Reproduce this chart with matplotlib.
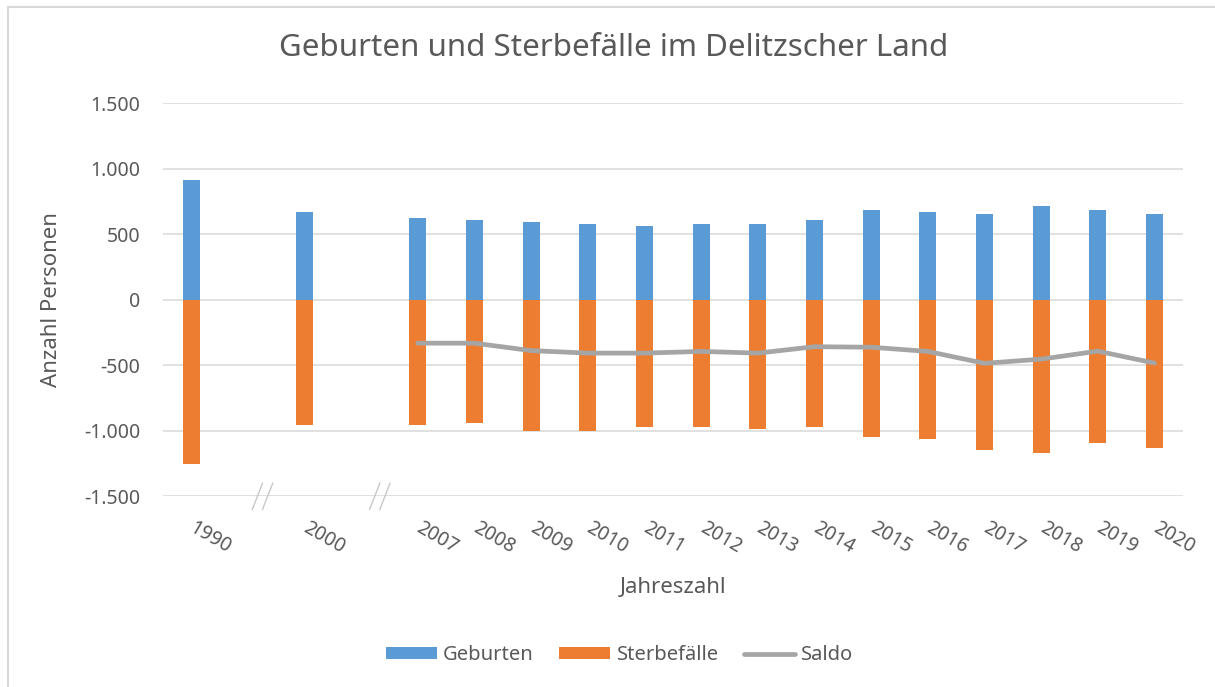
import matplotlib
matplotlib.use("Agg")
import matplotlib.pyplot as plt
from matplotlib.lines import Line2D
from matplotlib.ticker import FuncFormatter

plt.rcParams['font.family'] = ['Noto Sans', 'DejaVu Sans']

# data
jahre = ['1990', '', '2000', '', '2007', '2008', '2009', '2010', '2011', '2012',
         '2013', '2014', '2015', '2016', '2017', '2018', '2019', '2020']
geburten = [915, None, 670, None, 625, 608, 593, 578, 563, 578,
            578, 608, 685, 669, 654, 715, 685, 654]
sterbefaelle = [-1255, None, -955, None, -957, -942, -1000, -1000, -972, -972,
                -987, -972, -1046, -1061, -1150, -1168, -1092, -1135]
saldo = [None, None, None, None, -331, -331, -388, -407, -407, -394,
         -407, -358, -362, -394, -485, -453, -392, -483]

c_geb = '#5b9bd5'
c_ster = '#ed7d31'
c_saldo = '#a5a5a5'
c_text = '#595959'
c_grid = '#d9d9d9'

fig = plt.figure(figsize=(12.15, 6.87), dpi=100)
ax = fig.add_axes([0.134, 0.2776, 0.8395, 0.572])

x = list(range(len(jahre)))
xg = [i for i in x if geburten[i] is not None]
ax.bar(xg, [geburten[i] for i in xg], width=0.3, color=c_geb, zorder=2, label='Geburten')
ax.bar(xg, [sterbefaelle[i] for i in xg], width=0.3, color=c_ster, zorder=2, label='Sterbefälle')
xs = [i for i in x if saldo[i] is not None]
ax.plot(xs, [saldo[i] for i in xs], color=c_saldo, lw=3.4, zorder=3,
        solid_capstyle='round', solid_joinstyle='round', label='Saldo')

ax.set_xlim(-0.5, len(jahre) - 0.5)
ax.set_ylim(-1500, 1500)
ax.set_yticks(range(-1500, 1501, 500))
ax.yaxis.set_major_formatter(FuncFormatter(lambda v, p: f"{v:,.0f}".replace(",", ".")))
ax.grid(axis='y', color=c_grid, lw=1.1, zorder=0)
ax.set_axisbelow(True)
for s in ax.spines.values():
    s.set_visible(False)
ax.tick_params(axis='both', length=0, colors=c_text, labelsize=14)
ax.tick_params(axis='y', pad=16)

ax.set_xticks(x)
ax.set_xticklabels(jahre, rotation=-30, rotation_mode='anchor', ha='left', va='center')
ax.tick_params(axis='x', pad=22)

# axis break marks
for bx in [1.26, 3.33]:
    for dx in [-0.09, 0.09]:
        ax.plot([bx + dx - 0.09, bx + dx + 0.09], [-1600, -1400], color='#c8c8c8',
                lw=1.0, clip_on=False, zorder=4)

ax.set_ylabel('Anzahl Personen', color=c_text, fontsize=16)
ax.yaxis.set_label_coords(-0.099, 0.5)
ax.set_xlabel('Jahreszahl', color=c_text, fontsize=16)
ax.xaxis.set_label_coords(0.5, -0.205)

fig.text(0.505, 1 - 48 / 687, 'Geburten und Sterbefälle im Delitzscher Land',
         ha='center', va='center', fontsize=22.5, color=c_text)

handles, labels = ax.get_legend_handles_labels()
order = [labels.index('Geburten'), labels.index('Sterbefälle'), labels.index('Saldo')]
fig.legend([handles[i] for i in order], [labels[i] for i in order],
           loc='center', bbox_to_anchor=(0.51, 0.0466), ncol=3, frameon=False,
           fontsize=14.5, labelcolor=c_text, handlelength=2.55, handleheight=0.5,
           handletextpad=0.3, columnspacing=1.25)

# chart area border (top and left only visible)
fig.add_artist(Line2D([8 / 1215, 8 / 1215], [0, 1 - 7 / 687], color=c_grid, lw=1.5))
fig.add_artist(Line2D([8 / 1215, 1], [1 - 7 / 687, 1 - 7 / 687], color=c_grid, lw=1.5))

fig.savefig('out.png', dpi=100, facecolor='white')
